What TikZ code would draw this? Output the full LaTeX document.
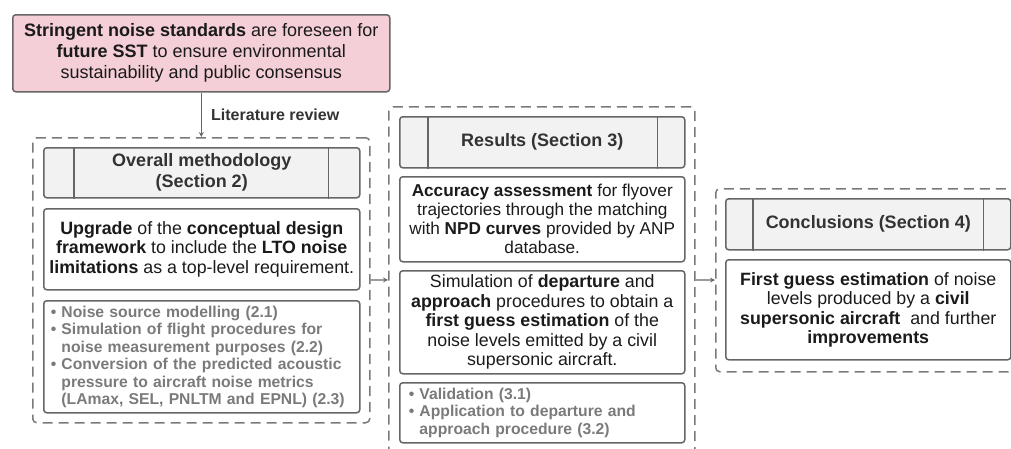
\documentclass[tikz,border=0pt]{standalone}
\usepackage{fontspec}
\setmainfont{Liberation Sans}
\usepackage{xcolor}
\definecolor{linegrey}{HTML}{666666}
\definecolor{dashgrey}{HTML}{7A7A7A}
\definecolor{hdrfill}{HTML}{F2F2F2}
\definecolor{pinkfill}{HTML}{F4CFD7}
\definecolor{hdrtext}{HTML}{333333}
\definecolor{bodytext}{HTML}{1A1A1A}
\definecolor{listtext}{HTML}{7A7A7A}

\begin{document}
\begin{tikzpicture}[x=1pt,y=-1pt,>=stealth,
   box/.style={draw=linegrey, line width=1.5pt, rounded corners=3pt, anchor=north west,
      inner sep=0pt, align=center, text=bodytext, font=\fontsize{17.8}{19.5}\selectfont},
   hdrbox/.style={box, fill=hdrfill, text=hdrtext, font=\bfseries\fontsize{18}{21}\selectfont},
   listbox/.style={box, align=left, text=listtext, font=\bfseries\fontsize{15.7}{17.5}\selectfont},
   frame/.style={draw=dashgrey, line width=1.5pt, dash pattern=on 10pt off 6pt,
      rounded corners=4pt, anchor=north west, inner sep=0pt},
   hdrline/.style={draw=linegrey, line width=1.5pt},
   link/.style={->, draw=linegrey, line width=1.2pt}]
   \useasboundingbox (0,0) rectangle (1011,448);
   \clip (0,0) rectangle (1011,448);
   % problem statement
   \node [box, fill=pinkfill, minimum width=377pt, minimum height=77pt,
      font=\fontsize{18}{21}\selectfont] (standards) at (12,14)
      {\textbf{Stringent noise standards} are foreseen for\\
       \textbf{future SST} to ensure environmental\\
       sustainability and public consensus};
   % section 2
   \node [frame, minimum width=337pt, minimum height=285pt] (methodframe) at (32,137) {};
   \node [hdrbox, minimum width=316pt, minimum height=50pt] (methodhdr) at (43,147)
      {Overall methodology\\(Section 2)};
   \node [box, minimum width=316pt, minimum height=81pt] (upgrade) at (43,208)
      {\textbf{Upgrade} of the \textbf{conceptual design}\\
       \textbf{framework} to include the \textbf{LTO noise}\\
       \textbf{limitations} as a top-level requirement.};
   \node [listbox, minimum width=316pt, minimum height=112pt, text width=302pt] (methodlist) at (43,300)
      {\textbullet\ Noise source modelling (2.1)\\
       \textbullet\ Simulation of flight procedures for\\
       \phantom{\textbullet\ }noise measurement purposes (2.2)\\
       \textbullet\ Conversion of the predicted acoustic\\
       \phantom{\textbullet\ }pressure to aircraft noise metrics\\
       \phantom{\textbullet\ }(LAmax, SEL, PNLTM and EPNL) (2.3)};
   % section 3
   \node [frame, minimum width=306pt, minimum height=346pt] (resultsframe) at (388,106) {};
   \node [hdrbox, minimum width=285pt, minimum height=51pt] (resultshdr) at (399,116)
      {Results (Section 3)};
   \node [box, minimum width=285pt, minimum height=85pt, font=\fontsize{17.2}{19}\selectfont] (accuracy) at (399,176)
      {\textbf{Accuracy assessment} for flyover\\
       trajectories through the matching\\
       with \textbf{NPD curves} provided by ANP\\
       database.};
   \node [box, minimum width=285pt, minimum height=103pt] (simulation) at (399,270)
      {Simulation of \textbf{departure} and\\
       \textbf{approach} procedures to obtain a\\
       \textbf{first guess estimation} of the\\
       noise levels emitted by a civil\\
       supersonic aircraft.};
   \node [listbox, minimum width=285pt, minimum height=60pt, text width=267pt] (resultslist) at (399,382)
      {\textbullet\ Validation (3.1)\\
       \textbullet\ Application to departure and\\
       \phantom{\textbullet\ }approach procedure (3.2)};
   % section 4
   \node [frame, minimum width=310pt, minimum height=183pt] (conclframe) at (715,188) {};
   \node [hdrbox, minimum width=285pt, minimum height=51pt] (conclhdr) at (725,198)
      {Conclusions (Section 4)};
   \node [box, minimum width=285pt, minimum height=100pt] (firstguess) at (725,259)
      {\textbf{First guess estimation} of noise\\
       levels produced by a \textbf{civil}\\
       \textbf{supersonic aircraft}\ \ and further\\
       \textbf{improvements}};
   % header side bars
   \draw [hdrline] ([xshift=31pt]methodhdr.north west) -- ([xshift=31pt]methodhdr.south west);
   \draw [hdrline] ([xshift=-32pt]methodhdr.north east) -- ([xshift=-32pt]methodhdr.south east);
   \draw [hdrline] ([xshift=29pt]resultshdr.north west) -- ([xshift=29pt]resultshdr.south west);
   \draw [hdrline] ([xshift=-28pt]resultshdr.north east) -- ([xshift=-28pt]resultshdr.south east);
   \draw [hdrline] ([xshift=28pt]conclhdr.north west) -- ([xshift=28pt]conclhdr.south west);
   \draw [hdrline] ([xshift=-28pt]conclhdr.north east) -- ([xshift=-28pt]conclhdr.south east);
   % connectors
   \draw [link] (standards) -- (methodframe)
      node [midway, right=6pt, text=hdrtext, font=\bfseries\fontsize{16}{18}\selectfont] {Literature review};
   \draw [link] (methodframe) -- (resultsframe);
   \draw [link] (resultsframe) -- (conclframe);
 \end{tikzpicture}
\end{document}
